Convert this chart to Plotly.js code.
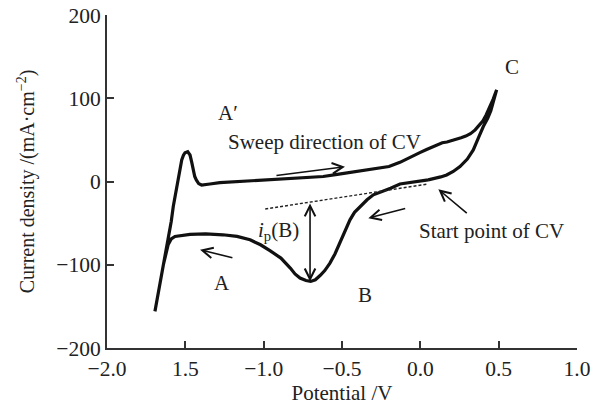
<!DOCTYPE html>
<html>
<head>
<meta charset="utf-8">
<script src="https://cdn.plot.ly/plotly-3.0.1.min.js"></script>
<style>html,body{margin:0;padding:0;background:#fff;}#chart{width:605px;height:408px;}</style>
</head>
<body>
<div id="chart"></div>
<script>
// Cyclic voltammogram, in sweep order: start point -> cathodic (lower) branch -> A -> reversal -> A' -> upper branch -> C -> back to start
const potential = [
  0.05, -0.05, -0.13, -0.19, -0.25, -0.30, -0.34, -0.385, -0.42, -0.449, -0.48, -0.513, -0.545, -0.577, -0.61, -0.64, -0.67, -0.70,
  -0.73, -0.768, -0.80, -0.83, -0.89, -0.96, -1.02, -1.087, -1.17, -1.26, -1.37, -1.47, -1.53, -1.566, -1.59, -1.61, -1.64, -1.662, -1.694,
  -1.662, -1.635, -1.609, -1.59, -1.577, -1.56, -1.545, -1.533, -1.523, -1.512, -1.502, -1.485, -1.47, -1.459, -1.449, -1.44, -1.43, -1.415, -1.396, -1.37, -1.343, -1.28,
  -1.2, -1.1, -0.94, -0.77, -0.62, -0.53, -0.45, -0.37, -0.3, -0.2, -0.13, -0.06, 0.0, 0.04, 0.08, 0.11, 0.14, 0.17, 0.2, 0.23, 0.26, 0.29, 0.32, 0.35, 0.38, 0.40, 0.42, 0.445, 0.465, 0.487,
  0.476, 0.466, 0.45, 0.43, 0.402, 0.37, 0.338, 0.30, 0.253, 0.21, 0.168, 0.13, 0.09, 0.05
];
const currentDensity = [
  2, -0.5, -3, -8, -12, -16, -22, -30, -37, -46, -60, -74, -87, -98, -107, -113, -118, -120,
  -119, -116, -111, -104, -92, -83, -76, -70, -66, -64, -63, -63.5, -64.5, -66, -69, -76, -100, -122, -156,
  -122, -96, -70, -48, -30, -12, 5.8, 17, 25.8, 31.5, 34.6, 35.8, 31.8, 23, 13.8, 6, 1.8, -2.5, -4.2, -4, -3, -1.4,
  -0.5, 0.5, 2, 4, 6, 8.5, 11, 13, 15, 18, 23, 30, 35, 38.5, 41.5, 44, 46.5, 47.5, 49, 51, 52.5, 54.5, 57.5, 62, 68, 73, 80, 90, 99, 110,
  102, 94, 85, 76, 66, 52, 38, 27, 18, 12, 7.8, 5.5, 4, 2
];
// Dashed baseline used for the peak current i_p(B)
const baselineX = [-0.99, 0.05];
const baselineY = [-33, -3];
// Peak B (bottom of i_p(B) arrow) and baseline value above it
const peakB = {x: -0.704, y: -120, base: -24.5};

const xTickVals = [-2.0, -1.5, -1.0, -0.5, 0.0, 0.5, 1.0];
const xTickText = ['\u22122.0', '1.5', '\u22121.0', '\u22120.5', '0.0', '0.5', '1.0'];
const yTickVals = [-200, -100, 0, 100, 200];
const yTickText = ['\u2212200', '\u2212100', '0', '100', '200'];

// Sweep-direction arrows: [tailX, tailY, headX, headY]
const arrows = [
  [-0.928, 7, -0.481, 17.8],
  [-0.087, -32, -0.332, -44],
  [-1.19, -92, -1.406, -82],
  [0.306, -39.4, 0.115, -9.4]
];
// Text labels: [text, x, y]
const labels = [
  ['C', 0.583, 137.8],
  ['A\u2032', -1.23, 82],
  ['Sweep direction of CV', -0.612, 47.4],
  ['<i>i</i><sub>p</sub>(B)', -0.905, -60],
  ['A', -1.268, -122],
  ['B', -0.353, -136],
  ['Start point of CV', 0.455, -60]
];

const FONT = 'Liberation Serif, Times New Roman, serif';
const TXT = '#222';

const traces = [
  {x: potential, y: currentDensity, type: 'scatter', mode: 'lines',
   line: {color: '#111', width: 3.2}, hoverinfo: 'skip'},
  {x: baselineX, y: baselineY, type: 'scatter', mode: 'lines',
   line: {color: '#222', width: 1.4, dash: '3px,2px'}, hoverinfo: 'skip'}
];

const annotations = [];
arrows.forEach(a => annotations.push({
  x: a[2], y: a[3], ax: a[0], ay: a[1], xref: 'x', yref: 'y', axref: 'x', ayref: 'y',
  text: '', showarrow: true, arrowhead: 5, arrowsize: 1.3, arrowwidth: 1.6, arrowcolor: '#111'
}));
annotations.push({
  x: peakB.x, y: peakB.y, ax: peakB.x, ay: peakB.base, xref: 'x', yref: 'y', axref: 'x', ayref: 'y',
  text: '', showarrow: true, arrowhead: 5, startarrowhead: 5, arrowside: 'end+start',
  arrowsize: 1.3, startarrowsize: 1.3, arrowwidth: 1.6, arrowcolor: '#111'
});
labels.forEach(l => annotations.push({
  x: l[1], y: l[2], xref: 'x', yref: 'y', text: l[0], showarrow: false,
  font: {family: FONT, size: 21, color: TXT}
}));

const layout = {
  width: 605, height: 408,
  margin: {l: 107, r: 28, t: 15, b: 60},
  paper_bgcolor: '#fff', plot_bgcolor: '#fff',
  showlegend: false,
  font: {family: FONT, size: 21, color: TXT},
  xaxis: {
    range: [-2, 1], tickvals: xTickVals, ticktext: xTickText,
    showgrid: false, zeroline: false, showline: true, linecolor: '#333', linewidth: 2,
    ticks: 'inside', ticklen: 7, tickwidth: 2, tickcolor: '#333',
    tickfont: {family: FONT, size: 21.5, color: TXT},
    title: {text: 'Potential /V', font: {family: FONT, size: 21, color: TXT}, standoff: 6}
  },
  yaxis: {
    range: [-200, 200], tickvals: yTickVals, ticktext: yTickText,
    showgrid: false, zeroline: false, showline: true, linecolor: '#333', linewidth: 2,
    ticks: 'inside', ticklen: 7, tickwidth: 2, tickcolor: '#333',
    tickfont: {family: FONT, size: 21.5, color: TXT},
    title: {text: 'Current density /(mA·cm<sup>\u22122</sup>)', font: {family: FONT, size: 20, color: TXT}, standoff: 16}
  },
  annotations: annotations
};

Plotly.newPlot('chart', traces, layout, {staticPlot: true, displayModeBar: false});
</script>
</body>
</html>
